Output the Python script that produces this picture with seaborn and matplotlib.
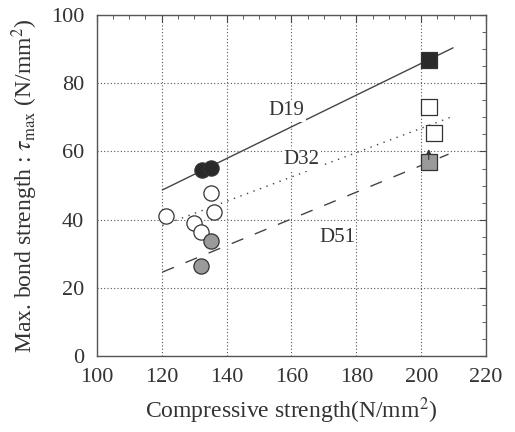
import numpy as np
import pandas as pd
import matplotlib
matplotlib.use("Agg")
import matplotlib.pyplot as plt
import seaborn as sns
from matplotlib.ticker import MultipleLocator

# measured points
d19_x = [132.3, 135.2, 202.3]
d19_y = [54.5, 55.2, 86.8]
d19_marker = ['o', 'o', 's']

d32_x = [135.2, 121.2, 136.1, 130.1, 132.1, 202.3, 204.0]
d32_y = [47.7, 41.1, 42.1, 38.9, 36.3, 73.1, 65.5]
d32_marker = ['o', 'o', 'o', 'o', 'o', 's', 's']

d51_x = [135.1, 132.1, 202.3]
d51_y = [33.8, 26.4, 56.8]
d51_marker = ['o', 'o', 's']

# regression lines (end points)
line_x = [120.2, 209.8]
d19_line = [48.7, 90.4]
d32_line_x = [120.2, 209.5]
d32_line = [38.3, 70.2]
d51_line_x = [120.2, 208.4]
d51_line = [24.6, 59.2]

# arrow on the D51 square (lower bound)
arrow_x = 202.3
arrow_y = [56.8, 61.5]

sns.set_style("white")
plt.rcParams['font.family'] = ['Liberation Serif', 'DejaVu Serif']
plt.rcParams['mathtext.fontset'] = 'stix'

fig = plt.figure(figsize=(5.15, 4.32), dpi=100)
ax = fig.add_axes([0.188, 0.176, 0.756, 0.789])

sns.lineplot(x=line_x, y=d19_line, ax=ax, color='#444444', lw=1.0)
sns.lineplot(x=d32_line_x, y=d32_line, ax=ax, color='#444444', lw=1.0,
             linestyle=(0, (1, 4)))
sns.lineplot(x=d51_line_x, y=d51_line, ax=ax, color='#444444', lw=1.0,
             linestyle=(0, (9, 9)))

groups = [
    (d19_x, d19_y, d19_marker, '#2a2a2a'),
    (d32_x, d32_y, d32_marker, 'white'),
    (d51_x, d51_y, d51_marker, '#9a9a9a'),
]
for xs, ys, ms, fc in groups:
    df = pd.DataFrame({'x': xs, 'y': ys, 'm': ms})
    for m in ['o', 's']:
        sub = df[df['m'] == m]
        if len(sub) == 0:
            continue
        sns.scatterplot(data=sub, x='x', y='y', ax=ax, marker=m, s=120,
                        color=fc, edgecolor='#333333', linewidth=0.9,
                        zorder=5)

ax.annotate('', xy=(arrow_x, arrow_y[1]), xytext=(arrow_x, arrow_y[0]),
            arrowprops=dict(arrowstyle='-|>', color='#333333', lw=0.8,
                            mutation_scale=7), zorder=6)

ax.text(158.5, 72, 'D19', fontsize=15, ha='center', va='center', color='#333333',
        bbox=dict(fc='white', ec='none', pad=1))
ax.text(163.2, 57.5, 'D32', fontsize=15, ha='center', va='center', color='#333333',
        bbox=dict(fc='white', ec='none', pad=1))
ax.text(174, 34.8, 'D51', fontsize=15, ha='center', va='center', color='#333333')

ax.set_xlim(100, 220)
ax.set_ylim(0, 100)
ax.xaxis.set_major_locator(MultipleLocator(20))
ax.xaxis.set_minor_locator(MultipleLocator(5))
ax.yaxis.set_major_locator(MultipleLocator(20))
ax.yaxis.set_minor_locator(MultipleLocator(5))
ax.tick_params(which='both', direction='in', top=True, right=True,
               color='#444444', labelsize=16, labelcolor='#333333')
ax.tick_params(which='major', length=5, pad=9)
ax.tick_params(which='minor', length=3)
ax.grid(True, which='major', linestyle=(0, (1, 2)), color='#555555', lw=0.8)
for s in ax.spines.values():
    s.set_color('#555555')
    s.set_linewidth(1.0)

ax.set_xlabel('Compressive strength(N/mm$^2$)', fontsize=17, color='#333333',
              labelpad=6)
ax.set_ylabel(r'Max. bond strength : $\tau_{\mathrm{max}}$ (N/mm$^2$)',
              fontsize=17, color='#333333', labelpad=8)

fig.savefig('out.png', dpi=100)
